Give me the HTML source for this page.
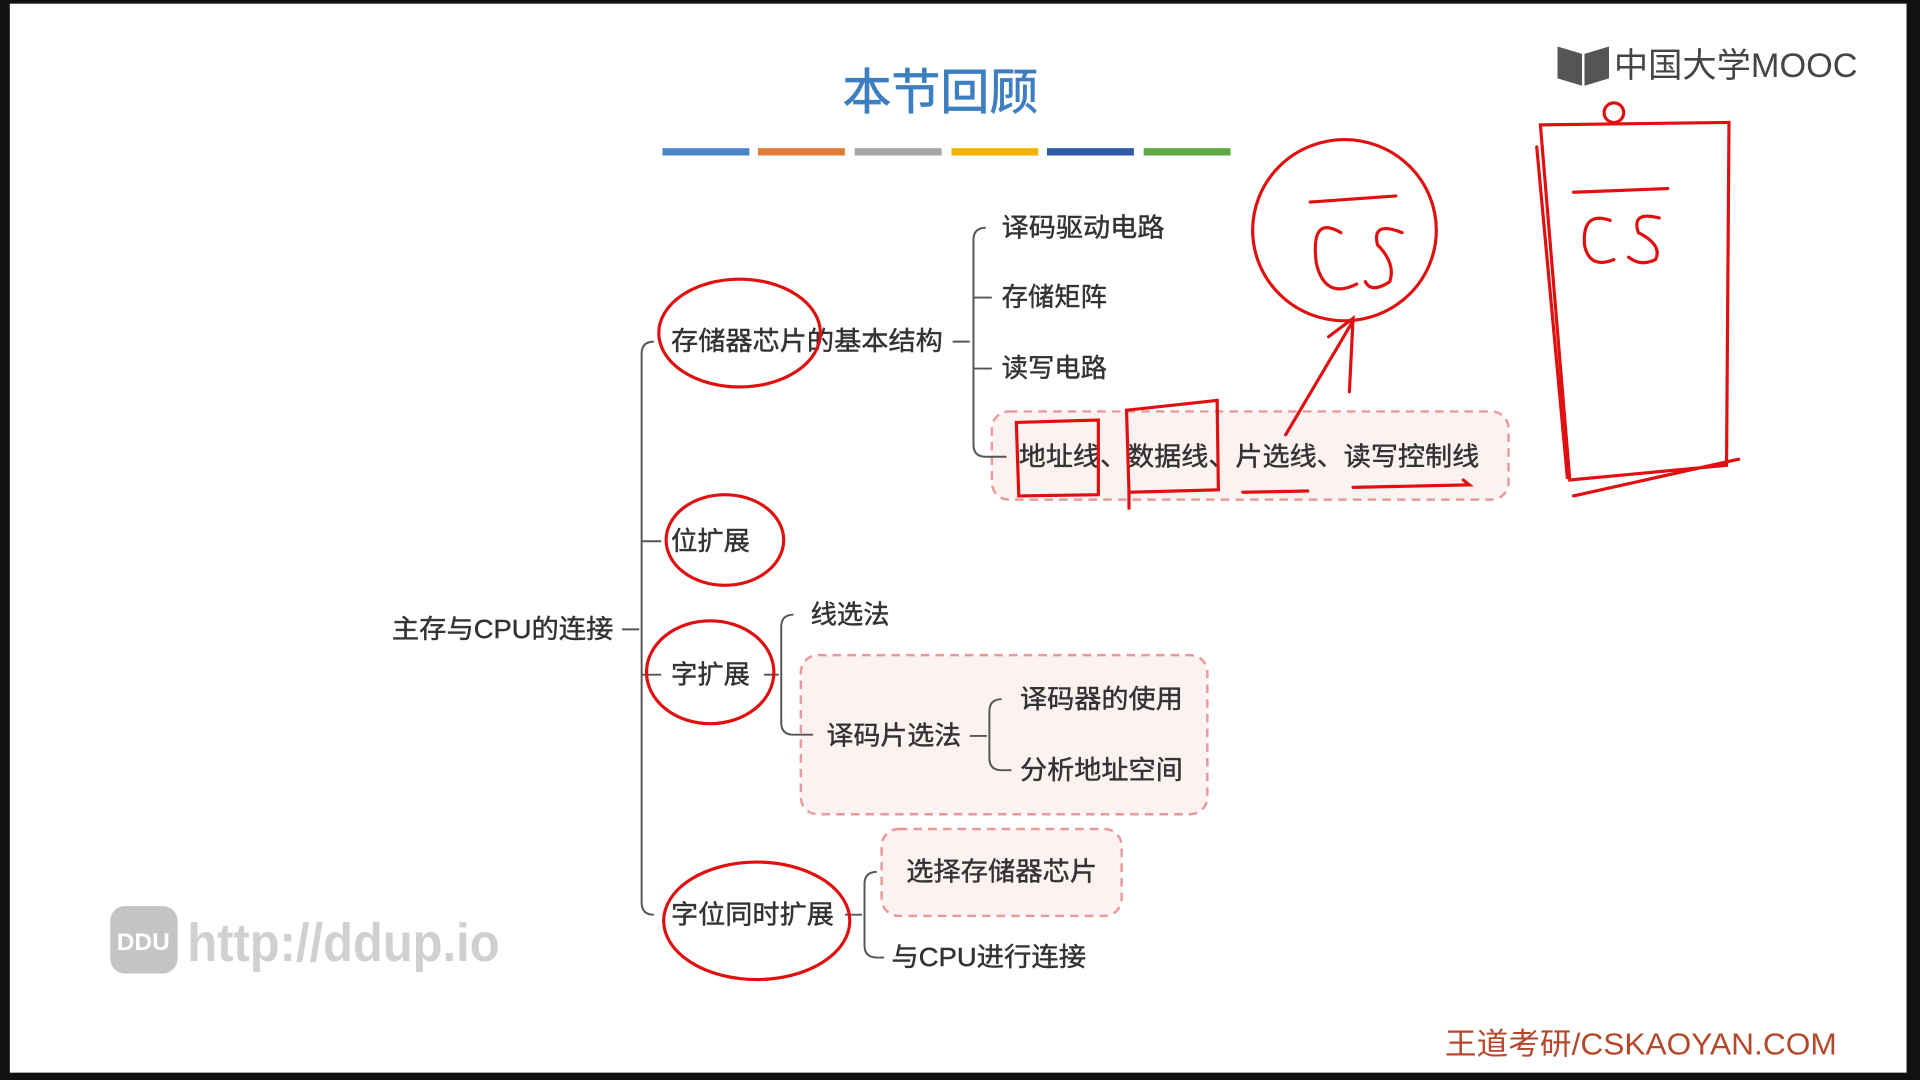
<!DOCTYPE html>
<html><head><meta charset="utf-8"><style>
html,body{margin:0;padding:0;background:#111;}
svg{display:block}
text{font-family:"Liberation Sans","Noto Sans CJK SC",sans-serif;}
</style></head><body>
<svg width="1920" height="1080" viewBox="0 0 1568 882" preserveAspectRatio="none" xmlns="http://www.w3.org/2000/svg">
<rect x="0" y="0" width="1568" height="882" fill="#111"/>
<rect x="8" y="3" width="1549" height="873" fill="#fff"/>
<text x="768" y="89" font-size="40" fill="#3d7fc1" text-anchor="middle" stroke="#3d7fc1" stroke-width="0.6">本节回顾</text>
<g>
<rect x="541" y="121" width="71" height="6" fill="#4a86c6"/>
<rect x="619" y="121" width="71" height="6" fill="#e07b39"/>
<rect x="698" y="121" width="71" height="6" fill="#a5a5a5"/>
<rect x="777" y="121" width="71" height="6" fill="#f0b400"/>
<rect x="855" y="121" width="71" height="6" fill="#2e5aa8"/>
<rect x="934" y="121" width="71" height="6" fill="#5fa844"/>
</g>
<path d="M1272 38 L1292 44 L1292 70 L1272 64 Z" fill="#555"/>
<path d="M1294 44 L1314 38 L1314 64 L1294 70 Z" fill="#555"/>
<text x="1318" y="63" font-size="28" fill="#444">中国大学MOOC</text>
<g fill="#fdf2f2" stroke="#e89a9a" stroke-width="2" stroke-dasharray="7 5">
<rect x="810" y="336" width="422" height="72" rx="14"/>
<rect x="654" y="535" width="332" height="130" rx="14"/>
<rect x="720" y="677" width="196" height="71" rx="14"/>
</g>
<g fill="none" stroke="#555" stroke-width="1.6">
<path d="M508 514 H522"/>
<path d="M534 279 Q524 279 524 289 V737 Q524 747 534 747"/>
<path d="M524 442 H540 M524 551 H540"/>
<path d="M778 279 H792"/>
<path d="M805 186 Q795 186 795 196 V363 Q795 373 805 373 H822"/>
<path d="M795 243 H810 M795 301 H810"/>
<path d="M624 551 H636"/>
<path d="M648 502 Q638 502 638 512 V590 Q638 600 648 600 H664"/>
<path d="M792 601 H806"/>
<path d="M818 571 Q808 571 808 581 V619 Q808 629 818 629 H826"/>
<path d="M690 747 H704"/>
<path d="M716 712 Q706 712 706 722 V772 Q706 782 716 782 H722"/>
</g>
<g font-size="21.5" fill="#333" stroke="#333" stroke-width="0.35">
<text x="320" y="521" textLength="181" lengthAdjust="spacingAndGlyphs">主存与CPU的连接</text>
<text x="548" y="286" textLength="222" lengthAdjust="spacingAndGlyphs">存储器芯片的基本结构</text>
<text x="548" y="449">位扩展</text>
<text x="548" y="558">字扩展</text>
<text x="548" y="754" textLength="133" lengthAdjust="spacingAndGlyphs">字位同时扩展</text>
<text x="818" y="193" textLength="133" lengthAdjust="spacingAndGlyphs">译码驱动电路</text>
<text x="818" y="250">存储矩阵</text>
<text x="818" y="308">读写电路</text>
<text x="832" y="380" textLength="376" lengthAdjust="spacingAndGlyphs">地址线、数据线、片选线、读写控制线</text>
<text x="662" y="509">线选法</text>
<text x="675" y="608" textLength="110" lengthAdjust="spacingAndGlyphs">译码片选法</text>
<text x="833" y="578" textLength="133" lengthAdjust="spacingAndGlyphs">译码器的使用</text>
<text x="833" y="636" textLength="133" lengthAdjust="spacingAndGlyphs">分析地址空间</text>
<text x="740" y="719" textLength="156" lengthAdjust="spacingAndGlyphs">选择存储器芯片</text>
<text x="728" y="789" textLength="159" lengthAdjust="spacingAndGlyphs">与CPU进行连接</text>
</g>
<g fill="none" stroke="#e01010" stroke-width="2.6" stroke-linecap="round">
<ellipse cx="604" cy="272" rx="66" ry="44"/>
<ellipse cx="592" cy="441" rx="48" ry="37"/>
<ellipse cx="580" cy="549" rx="52" ry="42"/>
<ellipse cx="618" cy="752" rx="76" ry="48"/>
<path d="M830 345 L897 343 L897 404 L832 405 Z"/>
<path d="M920 335 L994 327 L995 400 L922 402 Z M922 402 L922 415"/>
<path d="M1015 402 L1068 401 M1105 398 L1200 396 L1195 392"/>
<path d="M1050 355 L1105 262 M1085 275 L1105 260 L1102 320"/>
<ellipse cx="1098" cy="188" rx="75" ry="74"/>
<path d="M1070 165 L1140 160 M1095 190 Q1070 175 1075 215 Q1082 245 1108 232 M1145 190 Q1120 180 1125 200 Q1140 215 1135 230 Q1120 240 1115 230"/>
<path d="M1258 102 L1412 100 L1410 380 L1282 392 Z M1255 120 L1280 390 M1285 405 L1420 375"/>
<circle cx="1318" cy="92" r="8"/>
<path d="M1285 157 L1362 154 M1315 180 Q1292 172 1294 200 Q1298 220 1318 212 M1355 178 Q1332 172 1338 190 Q1358 200 1352 212 Q1340 218 1330 210"/>
</g>
<rect x="90" y="740" width="55" height="55" rx="12" fill="#c4c4c4"/>
<text x="117" y="776" font-size="20" fill="#fff" text-anchor="middle" font-weight="bold">DDU</text>
<text x="153" y="785" font-size="44" fill="#d0d0d0" font-weight="bold" textLength="255" lengthAdjust="spacingAndGlyphs">http://ddup.io</text>
<text x="1180" y="861" font-size="25" fill="#b5472b" textLength="320" lengthAdjust="spacingAndGlyphs">王道考研/CSKAOYAN.COM</text>
</svg>
</body></html>
